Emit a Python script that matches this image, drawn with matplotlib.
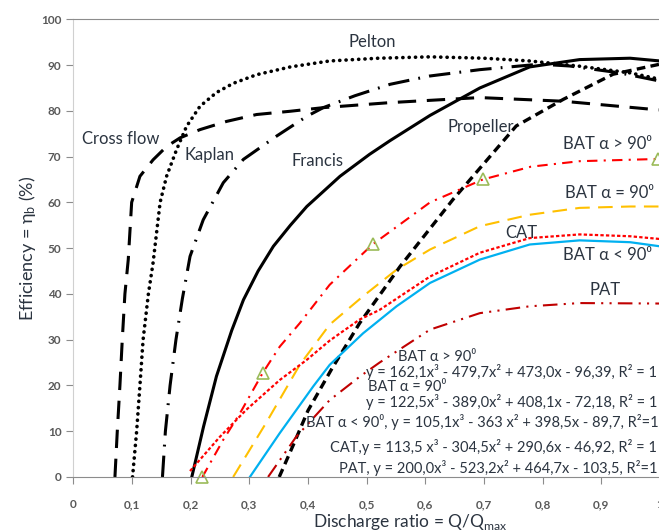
import matplotlib
matplotlib.use("Agg")
import matplotlib.pyplot as plt

plt.rcParams['font.family'] = ['Lato', 'DejaVu Sans']
plt.rcParams['mathtext.fontset'] = 'dejavusans'

# turbine curves
cross_x = [0.071, 0.075, 0.0795, 0.0835, 0.088, 0.0937, 0.0995, 0.1136, 0.136, 0.159, 0.182, 0.216, 0.2615, 0.3125, 0.369, 0.426, 0.54, 0.636, 0.693, 0.835, 0.998]
cross_y = [0, 10, 20, 30, 40, 47.5, 60, 65.7, 69.3, 72.2, 74.1, 75.9, 77.7, 79.2, 79.9, 80.7, 81.8, 82.5, 82.9, 82.1, 80.2]

pelton_x = [0.101, 0.108, 0.1136, 0.119, 0.128, 0.136, 0.148, 0.159, 0.176, 0.193, 0.216, 0.244, 0.2725, 0.3125, 0.37, 0.437, 0.52, 0.608, 0.70, 0.778, 0.86, 0.949, 1.0]
pelton_y = [0, 10, 20, 30, 40, 46.8, 60, 65.7, 71.5, 76.6, 81, 84, 86, 87.9, 89.6, 90.9, 91.5, 91.8, 91.5, 90.9, 89.8, 88.3, 86.9]

kaplan_x = [0.152, 0.157, 0.165, 0.175, 0.186, 0.199, 0.2215, 0.2557, 0.29, 0.3467, 0.398, 0.426, 0.48, 0.54, 0.607, 0.693, 0.795, 0.846, 0.931, 1.0]
kaplan_y = [0, 10, 20, 30, 39, 48.2, 56.2, 64.3, 69.4, 74.5, 78.8, 80.7, 83.3, 85.8, 87.6, 89, 90.2, 89.8, 88.3, 86.5]

francis_x = [0.202, 0.222, 0.244, 0.27, 0.29, 0.315, 0.341, 0.37, 0.398, 0.4546, 0.505, 0.54, 0.608, 0.693, 0.778, 0.863, 0.949, 1.0]
francis_y = [0, 11, 22, 32, 38.7, 45, 50.4, 55, 59.1, 65.7, 70.5, 73.5, 79, 85, 89.6, 91.2, 91.5, 90.9]

prop_x = [0.351, 0.375, 0.40, 0.44, 0.488, 0.557, 0.647, 0.70, 0.755, 0.835, 0.92, 1.0]
prop_y = [0, 7, 14.5, 23.5, 33.6, 46, 60.6, 68.5, 76.7, 82.5, 88, 90.2]

# pump-as-turbine curves
bat_gt_x = [0.22, 0.2555, 0.284, 0.3227, 0.352, 0.386, 0.437, 0.51, 0.608, 0.698, 0.78, 0.863, 1.0]
bat_gt_y = [0, 8.1, 13.9, 22.7, 28.5, 33.6, 42, 50.8, 60, 65, 67.8, 69, 69.5]

bat_eq_x = [0.2725, 0.3295, 0.386, 0.437, 0.494, 0.551, 0.608, 0.693, 0.778, 0.863, 0.949, 1.0]
bat_eq_y = [0, 12, 24.5, 33.3, 39.5, 45.3, 49.7, 54.8, 57.3, 58.8, 59.1, 59.1]

cat_x = [0.199, 0.25, 0.295, 0.352, 0.398, 0.437, 0.488, 0.522, 0.608, 0.693, 0.778, 0.863, 0.949, 1.0]
cat_y = [1.3, 8.8, 14.7, 21.2, 25.6, 29.8, 34.4, 36.5, 43.8, 49, 52.2, 53, 52.6, 52]

bat_lt_x = [0.301, 0.352, 0.409, 0.437, 0.494, 0.551, 0.608, 0.693, 0.778, 0.863, 0.949, 1.0]
bat_lt_y = [0, 9.6, 19.8, 24.5, 31.4, 37.3, 42.4, 47.5, 50.8, 51.7, 51.3, 50.4]

pat_x = [0.332, 0.38, 0.437, 0.488, 0.522, 0.608, 0.693, 0.778, 0.863, 1.0]
pat_y = [0, 8.8, 16.8, 21.9, 25, 32.2, 35.8, 37.3, 38, 37.9]

tri_x = [0.22, 0.3227, 0.511, 0.698, 0.997]
tri_y = [0, 22.7, 51, 65, 69.4]

xticks = [0, 0.1, 0.2, 0.3, 0.4, 0.5, 0.6, 0.7, 0.8, 0.9, 1.0]
xtick_labels = ['0', '0,1', '0,2', '0,3', '0,4', '0,5', '0,6', '0,7', '0,8', '0,9', '1']
yticks = [0, 10, 20, 30, 40, 50, 60, 70, 80, 90, 100]

equations = [
    'y = 162,1x³ - 479,7x² + 473,0x - 96,39, R² = 1',
    'y = 122,5x³ - 389,0x² + 408,1x - 72,18, R² = 1',
    'BAT α < 90⁰, y = 105,1x³ - 363 x² + 398,5x - 89,7, R²=1',
    'CAT,y = 113,5 x³ - 304,5x² + 290,6x - 46,92, R² = 1',
    'PAT, y = 200,0x³ - 523,2x² + 464,7x - 103,5, R²=1',
]

txt = '#2b3440'
grey = '#8c8c8c'

fig = plt.figure(figsize=(6.59, 5.32), dpi=100)
ax = fig.add_axes([0.1112, 0.1034, 0.8903, 0.8603])

ax.plot(cross_x, cross_y, color='black', lw=2.2, dashes=(6, 3.5))
ax.plot(pelton_x, pelton_y, color='black', lw=2.6, dashes=(0.05, 1.7), dash_capstyle='round')
ax.plot(kaplan_x, kaplan_y, color='black', lw=2.2, dashes=(7, 3, 0.6, 3))
ax.plot(francis_x, francis_y, color='black', lw=2.2)
ax.plot(prop_x, prop_y, color='black', lw=2.4, dashes=(2.6, 1.6))

ax.plot(bat_gt_x, bat_gt_y, color='#ff0000', lw=1.5, dashes=(5, 3, 1, 3))
ax.plot(bat_eq_x, bat_eq_y, color='#ffc000', lw=1.5, dashes=(7, 4))
ax.plot(cat_x, cat_y, color='#ff0000', lw=1.6, dashes=(1.5, 1))
ax.plot(bat_lt_x, bat_lt_y, color='#00b0f0', lw=1.6)
ax.plot(pat_x, pat_y, color='#c00000', lw=1.5, dashes=(7, 3, 1, 3, 1, 3))
ax.plot(tri_x, tri_y, ls='none', marker='^', ms=8, mfc='none', mec='#9bbb59', mew=1.2, clip_on=False)

ax.set_xlim(0, 1)
ax.set_ylim(0, 100)
ax.set_xticks(xticks)
ax.set_xticklabels(xtick_labels)
ax.set_yticks(yticks)
ax.tick_params(axis='both', colors=grey, labelcolor='#595959', labelsize=8.5, length=5, width=0.8)
ax.tick_params(axis='x', pad=11)
for lab in ax.get_xticklabels() + ax.get_yticklabels():
    lab.set_fontweight('bold')

ax.spines['right'].set_visible(False)
ax.spines['top'].set_color(grey)
ax.spines['bottom'].set_color(grey)
ax.spines['left'].set_color('#d0d0d0')

ax.set_xlabel('Discharge ratio = Q/Q$_{\\mathregular{max}}$', fontsize=12.5, color=txt, va='center')
ax.xaxis.set_label_coords(0.574, -0.098)
ax.set_ylabel('Efficiency = $\\mathregular{\\eta_b}$ (%)', fontsize=13, color=txt, labelpad=2)

# curve names
ax.text(0.0815, 73.85, 'Cross flow', fontsize=12, color=txt, ha='center', va='center')
ax.text(0.233, 70.35, 'Kaplan', fontsize=12, color=txt, ha='center', va='center')
ax.text(0.417, 69.0, 'Francis', fontsize=12, color=txt, ha='center', va='center')
ax.text(0.509, 95.0, 'Pelton', fontsize=12, color=txt, ha='center', va='center')
ax.text(0.695, 76.5, 'Propeller', fontsize=12, color=txt, ha='center', va='center')
ax.text(0.911, 72.8, 'BAT α > 90⁰', fontsize=12, color=txt, ha='center', va='center')
ax.text(0.913, 62.1, 'BAT α = 90⁰', fontsize=12, color=txt, ha='center', va='center')
ax.text(0.763, 53.3, 'CAT', fontsize=12, color=txt, ha='center', va='center')
ax.text(0.911, 48.5, 'BAT α < 90⁰', fontsize=12, color=txt, ha='center', va='center')
ax.text(0.906, 40.9, 'PAT', fontsize=12, color=txt, ha='center', va='center')

# fitted equations
ax.text(0.553, 26.2, 'BAT α > 90⁰', fontsize=10.5, color=txt, ha='left', va='center')
ax.text(0.995, 22.9, equations[0], fontsize=10.5, color=txt, ha='right', va='center')
ax.text(0.502, 19.7, 'BAT α = 90⁰', fontsize=10.5, color=txt, ha='left', va='center')
ax.text(0.995, 16.4, equations[1], fontsize=10.5, color=txt, ha='right', va='center')
ax.text(0.997, 12.0, equations[2], fontsize=10.5, color=txt, ha='right', va='center')
ax.text(0.995, 6.6, equations[3], fontsize=10.5, color=txt, ha='right', va='center')
ax.text(0.995, 2.0, equations[4], fontsize=10.5, color=txt, ha='right', va='center')

fig.savefig('out.png', dpi=100)
